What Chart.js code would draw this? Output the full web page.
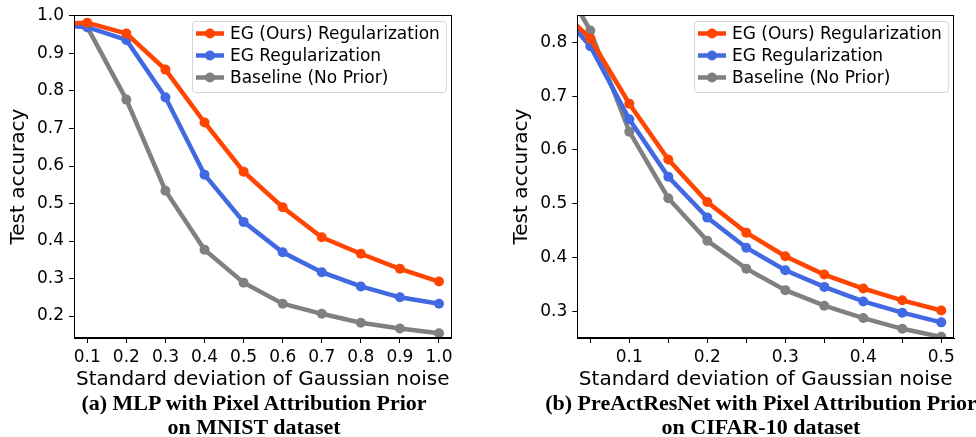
<!DOCTYPE html>
<html><head><meta charset="utf-8">
<script src="https://cdn.jsdelivr.net/npm/chart.js@4"></script>
<style>
html,body{margin:0;padding:0;background:#fff;overflow:hidden;width:976px;height:437px;position:relative;}
canvas{position:absolute;top:0;}
.cap{position:absolute;font-family:"Liberation Serif","Times New Roman",serif;font-weight:bold;font-size:22px;line-height:24px;text-align:center;white-space:nowrap;color:#000;}
</style></head><body>
<canvas id="ca" width="470" height="392" style="left:0px"></canvas>
<canvas id="cb" width="486" height="392" style="left:490px"></canvas>
<div class="cap" style="left:34px;width:440px;top:391px">(a) MLP with Pixel Attribution Prior<br>on MNIST dataset</div>
<div class="cap" style="left:531px;width:460px;top:391px">(b) PreActResNet with Pixel Attribution Prior<br>on CIFAR-10 dataset</div>
<script>
// ---------- data: (a) MLP on MNIST ----------
const noiseA = [0.0, 0.1, 0.2, 0.3, 0.4, 0.5, 0.6, 0.7, 0.8, 0.9, 1.0];
const oursA  = [0.977, 0.982, 0.953, 0.857, 0.716, 0.585, 0.490, 0.410, 0.366, 0.326, 0.292];
const egA    = [0.979, 0.970, 0.936, 0.783, 0.577, 0.451, 0.370, 0.317, 0.279, 0.250, 0.233];
const baseA  = [0.979, 0.970, 0.777, 0.534, 0.377, 0.289, 0.233, 0.206, 0.182, 0.167, 0.154];
const xTicksA = [0.1, 0.2, 0.3, 0.4, 0.5, 0.6, 0.7, 0.8, 0.9, 1.0];
const yTicksA = [0.2, 0.3, 0.4, 0.5, 0.6, 0.7, 0.8, 0.9, 1.0];

// ---------- data: (b) PreActResNet on CIFAR-10 ----------
const noiseB = [0.0, 0.05, 0.1, 0.15, 0.2, 0.25, 0.3, 0.35, 0.4, 0.45, 0.5];
const oursB  = [0.878, 0.807, 0.686, 0.582, 0.503, 0.446, 0.402, 0.368, 0.342, 0.320, 0.301];
const egB    = [0.876, 0.793, 0.657, 0.550, 0.474, 0.418, 0.376, 0.345, 0.318, 0.297, 0.279];
const baseB  = [0.950, 0.822, 0.634, 0.510, 0.431, 0.379, 0.339, 0.310, 0.287, 0.267, 0.252];
const xTicksB = [0.05, 0.1, 0.15, 0.2, 0.25, 0.3, 0.35, 0.4, 0.45, 0.5];
const yTicksB = [0.3, 0.4, 0.5, 0.6, 0.7, 0.8];

const seriesNames = ['EG (Ours) Regularization', 'EG Regularization', 'Baseline (No Prior)'];
const seriesColors = ['#FF4500', '#4169E1', '#808080'];
const xTitle = 'Standard deviation of Gaussian noise';
const yTitle = 'Test accuracy';

const FONT = '"DejaVu Sans", sans-serif';

const framePlugin = {
  id: 'frameLegend',
  afterDatasetsDraw(chart) {
    const {ctx, chartArea: a} = chart;
    ctx.save();
    // frame (matplotlib spines)
    ctx.strokeStyle = '#000'; ctx.lineWidth = 1;
    ctx.strokeRect(Math.round(a.left) + 0.5, Math.round(a.top) + 0.5,
                   Math.round(a.right - a.left) - 1, Math.round(a.bottom - a.top) - 1);
    // legend box
    ctx.font = '17px ' + FONT;
    const ds = chart.data.datasets;
    const tw = Math.max(...ds.map(d => ctx.measureText(d.label).width));
    const w = 38 + tw + 6, h = 71;
    const x0 = Math.round(a.right - 6 - w), y0 = Math.round(a.top + 6);
    ctx.beginPath();
    ctx.roundRect(x0 + 0.5, y0 + 0.5, w, h, 3);
    ctx.fillStyle = 'rgba(255,255,255,0.85)'; ctx.fill();
    ctx.strokeStyle = '#d4d4d4'; ctx.lineWidth = 1; ctx.stroke();
    ds.forEach((d, i) => {
      const cy = y0 + 12.5 + 22 * i;
      ctx.strokeStyle = d.borderColor; ctx.lineWidth = 4.5; ctx.lineCap = 'butt';
      ctx.beginPath(); ctx.moveTo(x0 + 4, cy); ctx.lineTo(x0 + 32, cy); ctx.stroke();
      ctx.fillStyle = d.borderColor;
      ctx.beginPath(); ctx.arc(x0 + 18, cy, 5, 0, Math.PI * 2); ctx.fill();
      ctx.fillStyle = '#000'; ctx.textBaseline = 'middle'; ctx.textAlign = 'left';
      ctx.fillText(d.label, x0 + 38, cy + 1);
    });
    ctx.restore();
  }
};

function makeDatasets(xs, ys) {
  return ys.map((arr, i) => ({
    label: seriesNames[i],
    data: xs.map((x, j) => ({x: x, y: arr[j]})),
    borderColor: seriesColors[i],
    backgroundColor: seriesColors[i],
    pointBackgroundColor: seriesColors[i],
    pointBorderWidth: 0,
    pointRadius: 5,
    borderWidth: 4.5,
    tension: 0,
    clip: 0,
    fill: false
  }));
}

function makeChart(id, xs, ys, xr, yr, xTicks, yTicks, lay) {
  new Chart(document.getElementById(id), {
    type: 'line',
    data: { datasets: makeDatasets(xs, ys) },
    plugins: [framePlugin],
    options: {
      responsive: false, animation: false, devicePixelRatio: 1,
      layout: { padding: lay.padding },
      plugins: { legend: { display: false }, tooltip: { enabled: false } },
      scales: {
        x: {
          type: 'linear', min: xr[0], max: xr[1],
          afterBuildTicks: s => { s.ticks = xTicks.map(v => ({value: v})); },
          afterFit: s => { s.height = lay.xh; },
          ticks: {
            autoSkip: false, maxRotation: 0, padding: lay.xpad, color: '#000',
            font: { family: FONT, size: 17 },
            callback: v => (Math.round(v * 100) % 10 === 0 ? v.toFixed(1) : '')
          },
          grid: { display: true, drawOnChartArea: false, drawTicks: true, tickLength: 5, color: '#000' },
          border: { display: true, color: '#000', width: 1 },
          title: { display: true, text: xTitle, color: '#000', font: { family: FONT, size: 20 }, padding: { top: 0, bottom: 0 } }
        },
        y: {
          type: 'linear', min: yr[0], max: yr[1],
          afterBuildTicks: s => { s.ticks = yTicks.map(v => ({value: v})); },
          afterFit: s => { s.width = lay.yw; },
          ticks: { padding: 5, color: '#000', font: { family: FONT, size: 17 }, callback: v => v.toFixed(1) },
          grid: { display: true, drawOnChartArea: false, drawTicks: true, tickLength: 5, color: '#000' },
          border: { display: true, color: '#000', width: 1 },
          title: { display: true, text: yTitle, color: '#000', font: { family: FONT, size: 20 }, padding: { top: lay.ytp, bottom: 0 } }
        }
      }
    }
  });
}

makeChart('ca', noiseA, [oursA, egA, baseA], [0.066, 1.032], [0.1415, 1.002], xTicksA, yTicksA,
  { padding: { left: 0, top: 10, right: 18.5, bottom: 0 }, xh: 54, yw: 74, ytp: 7, xpad: 4 });
makeChart('cb', noiseB, [oursB, egB, baseB], [0.0333, 0.5163], [0.2499, 0.8507], xTicksB, yTicksB,
  { padding: { left: 0, top: 9.5, right: 22, bottom: 0 }, xh: 54, yw: 87.3, ytp: 20, xpad: 4 });
</script>
</body></html>
